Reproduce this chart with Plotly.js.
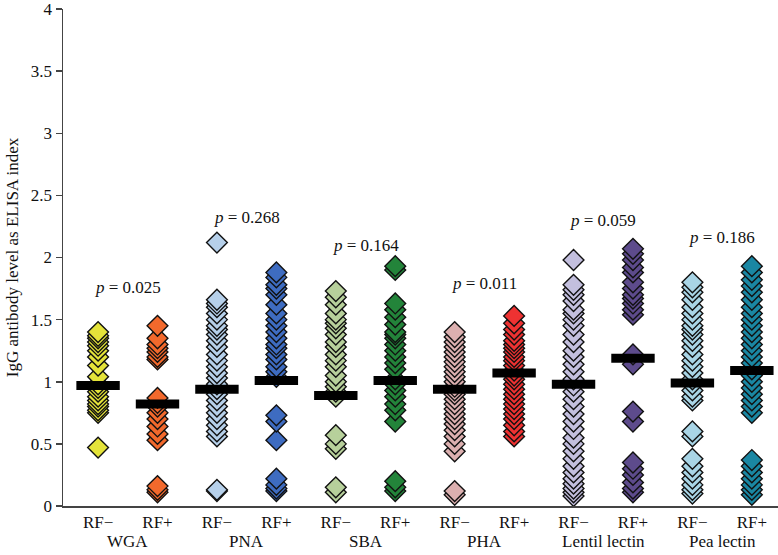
<!DOCTYPE html>
<html>
<head>
<meta charset="utf-8">
<script src="https://cdn.plot.ly/plotly-3.0.1.min.js"></script>
<style>html,body{margin:0;padding:0;background:#fff;}#chart{width:778px;height:555px;}</style>
</head>
<body>
<div id="chart"></div>
<script>
// ---- data ----
const groups = ['WGA', 'PNA', 'SBA', 'PHA', 'Lentil lectin', 'Pea lectin'];
const status = ['RF\u2212', 'RF+'];
const pValues = ['0.025', '0.268', '0.164', '0.011', '0.059', '0.186'];
const pLabelY = [1.76, 2.32, 2.10, 1.79, 2.30, 2.16];

const wgaNeg = [1.40, 1.37, 1.35, 1.32, 1.29, 1.25, 1.20, 1.13, 1.04, 0.98, 0.95, 0.92, 0.88, 0.85, 0.82, 0.80, 0.77, 0.75, 0.47];
const wgaPos = [1.45, 1.35, 1.30, 1.27, 1.24, 1.20, 1.18, 0.87, 0.83, 0.80, 0.75, 0.70, 0.64, 0.58, 0.53, 0.16, 0.13, 0.11];
const pnaNeg = [2.12, 1.66, 1.63, 1.60, 1.55, 1.50, 1.45, 1.42, 1.38, 1.33, 1.28, 1.22, 1.17, 1.12, 1.07, 1.03, 0.98, 0.94, 0.90, 0.85, 0.80, 0.75, 0.70, 0.65, 0.60, 0.56, 0.13, 0.12];
const pnaPos = [1.88, 1.84, 1.78, 1.75, 1.70, 1.62, 1.55, 1.50, 1.45, 1.40, 1.35, 1.30, 1.27, 1.22, 1.18, 1.12, 1.08, 1.04, 0.73, 0.68, 0.53, 0.22, 0.17, 0.14, 0.12];
const sbaNeg = [1.73, 1.68, 1.62, 1.55, 1.50, 1.47, 1.43, 1.38, 1.32, 1.28, 1.22, 1.17, 1.12, 1.05, 1.00, 0.96, 0.92, 0.88, 0.57, 0.50, 0.46, 0.15, 0.11];
const sbaPos = [1.93, 1.90, 1.63, 1.58, 1.52, 1.46, 1.40, 1.38, 1.35, 1.30, 1.25, 1.20, 1.15, 1.10, 1.02, 0.98, 0.93, 0.88, 0.82, 0.77, 0.68, 0.20, 0.15, 0.12];
const phaNeg = [1.40, 1.36, 1.32, 1.28, 1.24, 1.20, 1.16, 1.12, 1.08, 1.04, 1.00, 0.96, 0.93, 0.90, 0.86, 0.82, 0.78, 0.74, 0.70, 0.66, 0.61, 0.56, 0.50, 0.44, 0.12, 0.09];
const phaPos = [1.53, 1.47, 1.42, 1.38, 1.33, 1.30, 1.27, 1.24, 1.20, 1.17, 1.13, 1.09, 1.05, 1.02, 0.98, 0.94, 0.90, 0.86, 0.82, 0.78, 0.74, 0.70, 0.65, 0.60, 0.56];
const lenNeg = [1.98, 1.78, 1.74, 1.70, 1.65, 1.58, 1.55, 1.50, 1.45, 1.38, 1.32, 1.25, 1.20, 1.14, 1.08, 1.02, 0.97, 0.92, 0.86, 0.80, 0.74, 0.68, 0.62, 0.55, 0.50, 0.44, 0.38, 0.32, 0.27, 0.22, 0.18, 0.14, 0.11, 0.08];
const lenPos = [2.07, 2.03, 1.98, 1.92, 1.88, 1.80, 1.75, 1.70, 1.67, 1.63, 1.58, 1.54, 1.22, 1.14, 0.76, 0.68, 0.35, 0.30, 0.25, 0.19, 0.14, 0.11];
const peaNeg = [1.80, 1.76, 1.72, 1.66, 1.60, 1.55, 1.50, 1.45, 1.42, 1.38, 1.33, 1.28, 1.22, 1.17, 1.12, 1.07, 1.02, 0.98, 0.93, 0.88, 0.85, 0.60, 0.56, 0.38, 0.32, 0.27, 0.22, 0.17, 0.13, 0.10];
const peaPos = [1.93, 1.88, 1.82, 1.77, 1.72, 1.66, 1.60, 1.55, 1.50, 1.45, 1.40, 1.35, 1.30, 1.25, 1.20, 1.15, 1.10, 1.05, 1.00, 0.95, 0.90, 0.85, 0.80, 0.75, 0.37, 0.32, 0.27, 0.22, 0.17, 0.13, 0.09];

const medians = [0.97, 0.82, 0.94, 1.01, 0.89, 1.01, 0.94, 1.07, 0.98, 1.19, 0.99, 1.09];

// ---- styling ----
const series = [wgaNeg, wgaPos, pnaNeg, pnaPos, sbaNeg, sbaPos, phaNeg, phaPos, lenNeg, lenPos, peaNeg, peaPos];
const colors = ['#e4e33a', '#f2692c', '#b6d0ea', '#3e6cc1', '#b7d09b', '#23843a',
                '#dcb0b0', '#ee3232', '#c3bfde', '#5d4b8c', '#a9d5e6', '#1a87a3'];
const FONT = 'Liberation Serif, Times New Roman, serif';
const FS = 17;

const cats = [];
groups.forEach(g => status.forEach(s => cats.push(g + ' ' + s)));
const tickText = cats.map((c, i) => status[i % 2]);

const traces = series.map((vals, i) => ({
  type: 'scatter', mode: 'markers',
  x: vals.map(() => cats[i]), y: vals.slice().reverse(),
  marker: { symbol: 'diamond', size: 16, color: colors[i], line: { color: '#111', width: 1.4 } },
  hoverinfo: 'y', showlegend: false
}));

traces.push({
  type: 'scatter', mode: 'markers', x: cats, y: medians,
  marker: { symbol: 'line-ew', size: 31, color: '#000', line: { color: '#000', width: 9 } },
  hoverinfo: 'y', showlegend: false
});

const annotations = [];
groups.forEach((g, i) => {
  annotations.push({
    x: 2 * i + 0.5, xref: 'x', y: 0, yref: 'paper', yshift: -35,
    text: g, showarrow: false, yanchor: 'middle', xanchor: 'center',
    font: { family: FONT, size: FS, color: '#111' }
  });
  annotations.push({
    x: 2 * i + 0.5, xref: 'x', y: pLabelY[i], yref: 'y',
    text: '<i>p</i> = ' + pValues[i], showarrow: false, yanchor: 'middle', xanchor: 'center',
    font: { family: FONT, size: FS, color: '#111' }
  });
});

const layout = {
  width: 778, height: 555,
  margin: { l: 63, r: 0, t: 9, b: 49 },
  paper_bgcolor: '#fff', plot_bgcolor: '#fff',
  font: { family: FONT, size: FS, color: '#111' },
  xaxis: {
    type: 'category', categoryorder: 'array', categoryarray: cats,
    tickvals: cats, ticktext: tickText,
    range: [-0.59, 11.44],
    showgrid: false, zeroline: false, showline: true, linecolor: '#444', linewidth: 1.5,
    ticks: '', ticklabelstandoff: 0,
    tickfont: { family: FONT, size: FS, color: '#111' }
  },
  yaxis: {
    range: [0, 4], dtick: 0.5,
    showgrid: false, zeroline: false, showline: true, linecolor: '#444', linewidth: 1.5,
    ticks: 'outside', ticklen: 6, tickcolor: '#444', tickwidth: 1.5,
    ticklabeloverflow: 'allow',
    tickfont: { family: FONT, size: FS, color: '#111' },
    title: { text: 'IgG antibody level as ELISA index', font: { family: FONT, size: FS, color: '#111' }, standoff: 8 }
  },
  annotations: annotations
};

Plotly.newPlot('chart', traces, layout, { displayModeBar: false, staticPlot: true });
</script>
</body>
</html>
